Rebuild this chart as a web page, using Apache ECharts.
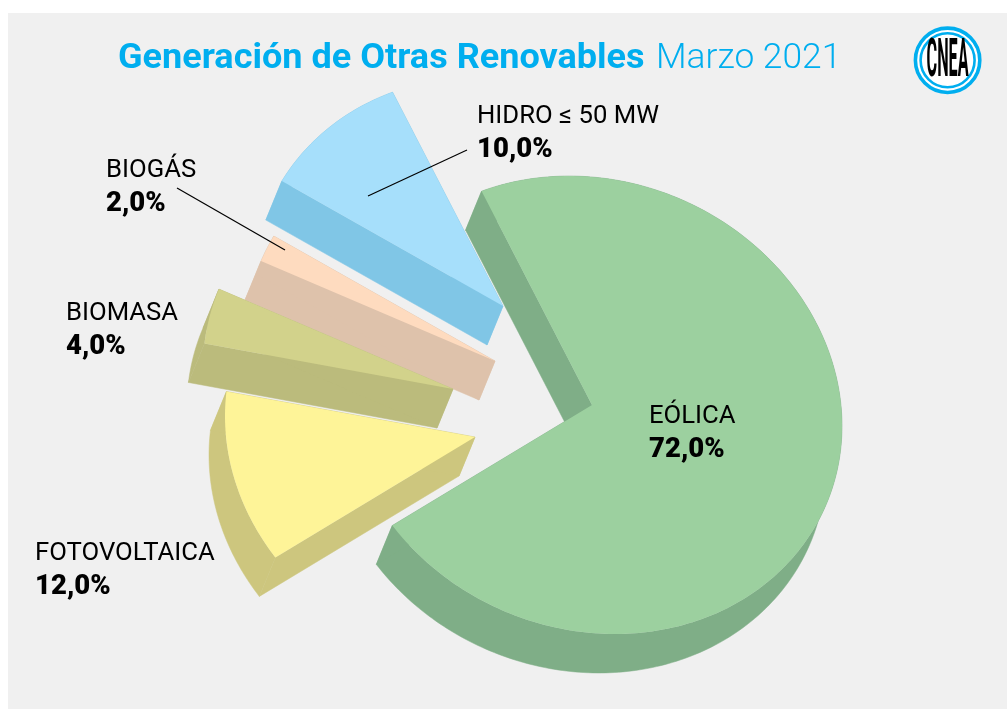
<!DOCTYPE html>
<html><head><meta charset="utf-8">
<style>html,body{margin:0;padding:0;background:#fff}#c{width:1007px;height:709px}</style>
<script src="https://cdn.jsdelivr.net/npm/echarts@6/dist/echarts.min.js"></script>
</head><body><div id="c"></div>
<script>
// Data, clockwise from the top-left cut of the main slice
const categories = ['EÓLICA', 'FOTOVOLTAICA', 'BIOMASA', 'BIOGÁS', 'HIDRO ≤ 50 MW'];
const shares = [72, 12, 4, 2, 10];
const titleMain = 'Generación de Otras Renovables';
const titleDate = 'Marzo 2021';

const topColors  = ['#9cd09f', '#fef498', '#d2d28b', '#fedbbf', '#a6dffb'];
const sideColors = ['#7fae87', '#cdc67e', '#bbbb7c', '#dec2ab', '#80c6e6'];
const explodeX = [0, -117, -139, -97, -89];
const explodeY = [0, 32, -16, -44, -99];
const labelX = [649, 35, 66, 106, 477];
const labelY = [417, 554, 314, 171, 117];
const leaderLines = [null, null, null, [177, 188, 285, 250], [467, 150, 368, 196]];

const FONT = 'Roboto, "Noto Sans", sans-serif';
// Tilted pie: sheared ellipse plus a constant extrusion vector
const CX = 592, CY = 405, RX = 250, RY = 228, SHEAR = 21, DX = -16, DY = 39, START = -116.2;
const total = shares.reduce((a, b) => a + b, 0);

function arcPoints(cx, cy, a0, a1) {
  const n = Math.max(2, Math.ceil(Math.abs(a1 - a0)));
  const out = [];
  for (let i = 0; i <= n; i++) {
    const t = (a0 + (a1 - a0) * i / n) * Math.PI / 180;
    out.push([cx + RX * Math.cos(t), cy + RY * Math.sin(t) + SHEAR * Math.cos(t)]);
  }
  return out;
}

function renderItem(params, api) {
  const i = params.dataIndex;
  let before = 0;
  for (let k = 0; k < i; k++) before += shares[k];
  const value = api.value(0);
  const a0 = START + before / total * 360;
  const a1 = a0 + value / total * 360;
  const ax = CX + explodeX[i], ay = CY + explodeY[i];
  const z = (categories.length - i) * 2;
  const arc = arcPoints(ax, ay, a0, a1);
  const low = p => [p[0] + DX, p[1] + DY];
  const apex = [ax, ay];
  const side = (pts) => ({ type: 'polygon', z2: z, silent: true,
    shape: { points: pts }, style: { fill: sideColors[i], stroke: sideColors[i], lineWidth: 0.5 } });
  const first = arc[0], last = arc[arc.length - 1];
  const children = [
    side(arc.concat(arc.slice().reverse().map(low))),
    side([apex, first, low(first), low(apex)]),
    side([apex, last, low(last), low(apex)]),
    { type: 'polygon', z2: z + 1, silent: true,
      shape: { points: [apex].concat(arc) }, style: { fill: topColors[i] } },
    { type: 'text', z2: 100, silent: true, x: labelX[i], y: labelY[i],
      style: { text: categories[i], fill: '#000', font: '25.7px ' + FONT, textVerticalAlign: 'middle' } },
    { type: 'text', z2: 100, silent: true, x: labelX[i], y: labelY[i] + 33,
      style: { text: value.toFixed(1).replace('.', ',') + '%', fill: '#000', font: '900 27.5px ' + FONT, textVerticalAlign: 'middle' } }
  ];
  if (leaderLines[i]) {
    const l = leaderLines[i];
    children.push({ type: 'line', z2: 100, silent: true,
      shape: { x1: l[0], y1: l[1], x2: l[2], y2: l[3] }, style: { stroke: '#000', lineWidth: 1.2 } });
  }
  return { type: 'group', children };
}

const chart = echarts.init(document.getElementById('c'), null, { renderer: 'canvas' });
chart.setOption({
  backgroundColor: '#ffffff',
  animation: false,
  graphic: [
    { type: 'rect', z: -10, silent: true, shape: { x: 8, y: 13, width: 999, height: 696 }, style: { fill: '#f0f0f0' } },
    { type: 'text', silent: true, x: 118, y: 59, scaleX: 1.03,
      style: { text: titleMain, fill: '#00aeef', font: 'bold 35px ' + FONT, textVerticalAlign: 'middle' } },
    { type: 'text', silent: true, x: 656, y: 59, scaleX: 1.01,
      style: { text: titleDate, fill: '#00aeef', font: '300 35px ' + FONT, textVerticalAlign: 'middle' } },
    { type: 'circle', silent: true, shape: { cx: 947.6, cy: 60.3, r: 32.2 }, style: { fill: '#fff', stroke: '#00aeef', lineWidth: 3.6 } },
    { type: 'circle', silent: true, shape: { cx: 947.6, cy: 60.3, r: 27 }, style: { fill: '#fff', stroke: '#00aeef', lineWidth: 2.6 } },
    { type: 'text', silent: true, x: 947.6, y: 62, scaleX: 0.6, scaleY: 2,
      style: { text: 'CNEA', fill: '#000', font: 'bold 27px ' + FONT, textAlign: 'center', textVerticalAlign: 'middle' } }
  ],
  series: [{
    type: 'custom',
    coordinateSystem: 'none',
    renderItem,
    data: shares.map((v, i) => ({ name: categories[i], value: [v] }))
  }]
});
</script></body></html>
